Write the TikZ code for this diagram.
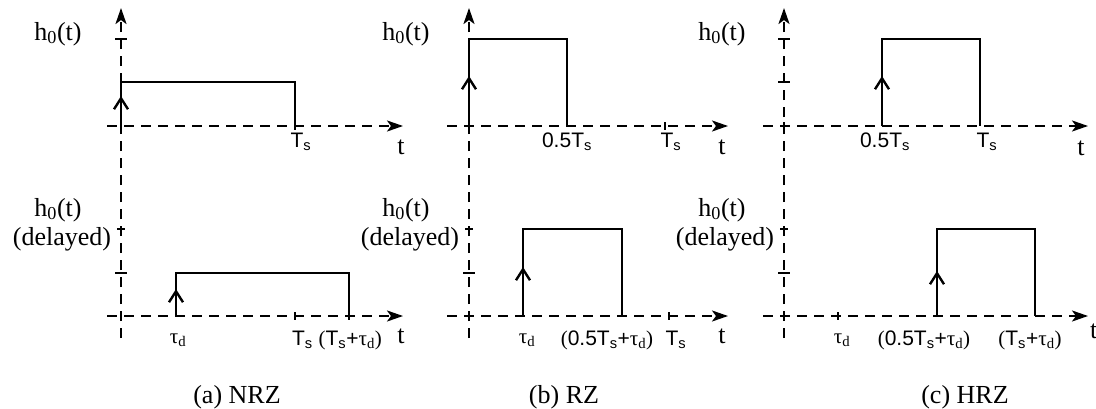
\documentclass[tikz,border=0pt]{standalone}
\usepackage{fontspec}
\setmainfont{Liberation Serif}
\setsansfont{Liberation Sans}
\usetikzlibrary{arrows.meta}
\begin{document}
\begin{tikzpicture}[x=1pt,y=-1pt,
  axis/.style={line width=2.3pt, dash pattern=on 10pt off 7pt, -{Stealth[length=16pt,width=11pt,inset=4pt]}},
  pulse/.style={line width=2.8pt, line join=miter},
  rise/.style={line width=2.8pt, -{Straight Barb[length=11pt,width=14pt,line width=2.4pt]}},
  tickmark/.style={line width=2pt},
  lab/.style={font=\fontsize{26}{28}\selectfont, inner sep=0pt, anchor=base},
  tlab/.style={font=\sffamily\fontsize{21}{23}\selectfont, inner sep=0pt, anchor=base},
  captxt/.style={font=\fontsize{26}{28}\selectfont, inner sep=0pt, anchor=base}
]
\useasboundingbox (0,0) rectangle (1096,408);
\newcommand{\Ts}{T\textsubscript{s}}
\newcommand{\taud}{{\rmfamily τ\textsubscript{d}}}
\newcommand{\ho}{h\textsubscript{0}(t)}

% ---------------- (a) NRZ ----------------
\coordinate (aVb) at (121,338); \coordinate (aVt) at (121,8);
\coordinate (aH1s) at (107,126); \coordinate (aH1e) at (403,126);
\coordinate (aH2s) at (107,316); \coordinate (aH2e) at (403,316);
\draw[axis] (aVb) -- (aVt);
\draw[axis] (aH1s) -- (aH1e);
\draw[axis] (aH2s) -- (aH2e);
\draw[tickmark] (115,39) -- (127,39);
\draw[tickmark] (117,229) -- (125,229);
\draw[tickmark] (115,273) -- (127,273);
\draw[tickmark] (121,312) -- (121,320);
\draw[tickmark] (295,122) -- (295,130);
\draw[tickmark] (295,312) -- (295,320);
\draw[tickmark] (349,312) -- (349,320);
\draw[pulse] (121,126) -- (121,82) -- (295,82) -- (295,126);
\draw[rise] (121,126) -- (121,96);
\draw[pulse] (176,316) -- (176,273) -- (349,273) -- (349,316);
\draw[rise] (176,316) -- (176,289);
\node[lab] (aY1) at (58,40) {\ho};
\node[lab] (aY2) at (58,216) {\ho};
\node[lab] (aY2b) at (62,245) {(delayed)};
\node[tlab] (aTs1) at (301,147) {\Ts};
\node[lab] (aT1) at (401,154) {t};
\node[tlab] (aTd) at (178,343) {\taud};
\node[tlab] (aTs2) at (337,345) {\Ts\ {\rmfamily(}\Ts+\taud{\rmfamily)}};
\node[lab] (aT2) at (401,343) {t};
\node[captxt] (aCap) at (237,403) {(a) NRZ};

% ---------------- (b) RZ ----------------
\coordinate (bVb) at (469,338); \coordinate (bVt) at (469,8);
\coordinate (bH1s) at (447,126); \coordinate (bH1e) at (728,126);
\coordinate (bH2s) at (447,316); \coordinate (bH2e) at (728,316);
\draw[axis] (bVb) -- (bVt);
\draw[axis] (bH1s) -- (bH1e);
\draw[axis] (bH2s) -- (bH2e);
\draw[tickmark] (465,229) -- (473,229);
\draw[tickmark] (463,273) -- (475,273);
\draw[tickmark] (665,122) -- (665,130);
\draw[tickmark] (669,312) -- (669,320);
\draw[pulse] (469,126) -- (469,39) -- (567,39) -- (567,126);
\draw[rise] (469,126) -- (469,76);
\draw[pulse] (523,316) -- (523,229) -- (622,229) -- (622,316);
\draw[rise] (523,316) -- (523,267);
\node[lab] (bY1) at (406,40) {\ho};
\node[lab] (bY2) at (406,216) {\ho};
\node[lab] (bY2b) at (410,245) {(delayed)};
\node[tlab] (b05) at (567,147) {0.5\Ts};
\node[tlab] (bTs1) at (671,147) {\Ts};
\node[lab] (bT1) at (722,154) {t};
\node[tlab] (bTd) at (527,343) {\taud};
\node[tlab] (b05d) at (607,345) {{\rmfamily(}0.5\Ts+\taud{\rmfamily)}};
\node[tlab] (bTs2) at (676,345) {\Ts};
\node[lab] (bT2) at (722,343) {t};
\node[captxt] (bCap) at (564,403) {(b) RZ};

% ---------------- (c) HRZ ----------------
\coordinate (cVb) at (784,338); \coordinate (cVt) at (784,8);
\coordinate (cH1s) at (763,126); \coordinate (cH1e) at (1088,126);
\coordinate (cH2s) at (763,316); \coordinate (cH2e) at (1088,316);
\draw[axis] (cVb) -- (cVt);
\draw[axis] (cH1s) -- (cH1e);
\draw[axis] (cH2s) -- (cH2e);
\draw[tickmark] (778,39) -- (790,39);
\draw[tickmark] (778,82) -- (790,82);
\draw[tickmark] (780,229) -- (788,229);
\draw[tickmark] (778,273) -- (790,273);
\draw[tickmark] (784,122) -- (784,130);
\draw[tickmark] (784,312) -- (784,320);
\draw[tickmark] (838,312) -- (838,320);
\draw[pulse] (882,126) -- (882,39) -- (980,39) -- (980,126);
\draw[rise] (882,126) -- (882,76);
\draw[pulse] (937,316) -- (937,229) -- (1035,229) -- (1035,316);
\draw[rise] (937,316) -- (937,271);
\node[lab] (cY1) at (722,40) {\ho};
\node[lab] (cY2) at (722,216) {\ho};
\node[lab] (cY2b) at (725,245) {(delayed)};
\node[tlab] (c05) at (885,147) {0.5\Ts};
\node[tlab] (cTs1) at (987,147) {\Ts};
\node[lab] (cT1) at (1081,155) {t};
\node[tlab] (cTd) at (842,343) {\taud};
\node[tlab] (c05d) at (924,345) {{\rmfamily(}0.5\Ts+\taud{\rmfamily)}};
\node[tlab] (cTsd) at (1030,345) {{\rmfamily(}\Ts+\taud{\rmfamily)}};
\node[lab, anchor=base west] (cT2) at (1090,338) {t};
\node[captxt] (cCap) at (965,403) {(c) HRZ};
\end{tikzpicture}
\end{document}
